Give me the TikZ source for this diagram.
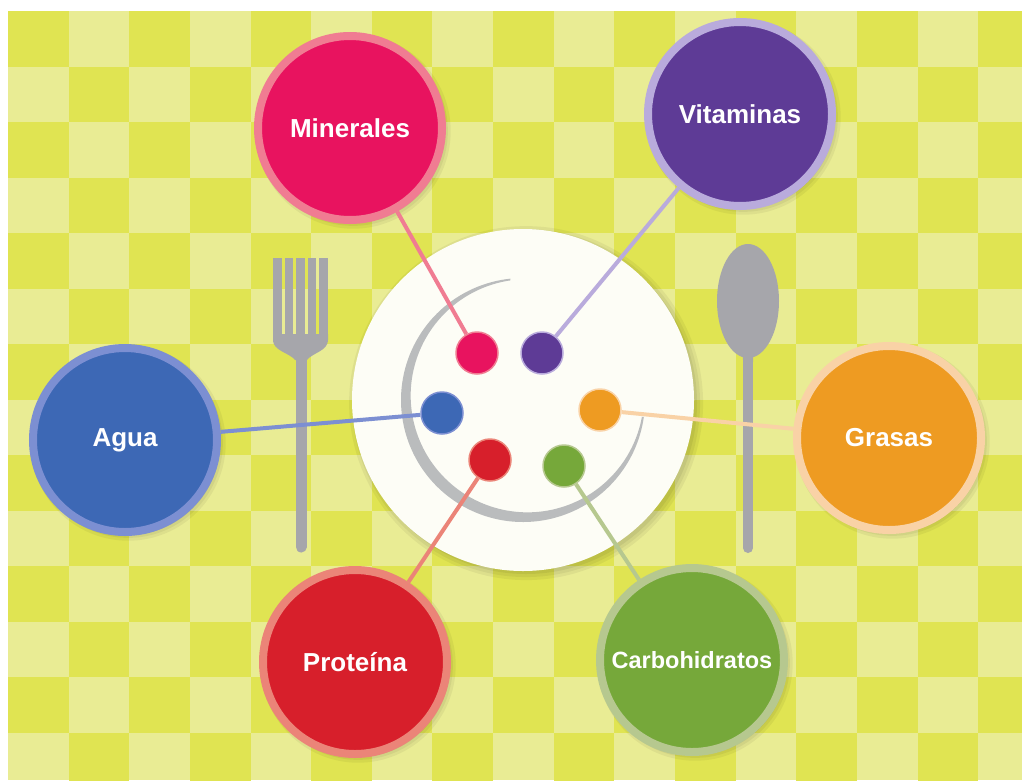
\documentclass[tikz,border=0pt]{standalone}
\usepackage{fontspec}
\setmainfont{Liberation Sans}
\usetikzlibrary{shadows}

\definecolor{checkdark}{RGB}{224,228,82}
\definecolor{checklight}{RGB}{233,236,148}
\definecolor{cutlery}{RGB}{166,166,171}
\definecolor{rimgray}{RGB}{186,188,189}
\definecolor{platewhite}{RGB}{253,253,246}

\definecolor{minfill}{RGB}{232,19,95}
\definecolor{minrim}{RGB}{240,124,146}
\definecolor{vitfill}{RGB}{94,59,150}
\definecolor{vitrim}{RGB}{185,171,220}
\definecolor{agufill}{RGB}{61,104,181}
\definecolor{agurim}{RGB}{124,143,210}
\definecolor{grafill}{RGB}{238,155,34}
\definecolor{grarim}{RGB}{249,210,166}
\definecolor{profill}{RGB}{215,31,43}
\definecolor{prorim}{RGB}{235,132,120}
\definecolor{carfill}{RGB}{118,168,58}
\definecolor{carrim}{RGB}{182,200,143}

\tikzset{
  softshadow/.style={
    general shadow={fill=black, fill opacity=0.05, shadow xshift=3pt, shadow yshift=-3pt, shadow scale=#1},
    general shadow={fill=black, fill opacity=0.05, shadow xshift=3pt, shadow yshift=-3pt, shadow scale={(1+#1)/2}},
    general shadow={fill=black, fill opacity=0.06, shadow xshift=3pt, shadow yshift=-3pt}},
  bigdisc/.style={circle, inner sep=0pt, minimum size=184pt, line width=8pt,
    fill=#1fill, draw=#1rim, text=white,
    font=\bfseries\fontsize{26}{30}\selectfont, softshadow=1.06},
  smalldot/.style={circle, inner sep=0pt, minimum size=42pt, line width=1.5pt,
    fill=#1fill, draw=#1rim},
  link/.style={line width=4pt, draw=#1rim},
}

\begin{document}
\begin{tikzpicture}[x=1pt, y=-1pt]
  \useasboundingbox (0,0) rectangle (1022,780);
  \fill[white] (0,0) rectangle (1022,780);

  % checkered tablecloth
  \begin{scope}
    \clip (8,11) rectangle (1022,780);
    \fill[checklight] (8,11) rectangle (1022,780);
    \foreach \i in {0,...,16}{
      \foreach \j in {0,...,13}{
        \pgfmathtruncatemacro\parity{mod(\i+\j,2)}
        \ifnum\parity=0
          \fill[checkdark] ({8+60.64*\i},{11+55.5*\j}) rectangle ++(60.64,55.5);
        \fi
      }
    }
  \end{scope}

  % fork
  \foreach \tx in {273,284.6,296.2,307.8,319.4}{
    \fill[cutlery] (\tx,258) rectangle ++(8.6,84);
  }
  \fill[cutlery] (273,334) -- (328,334) -- (328,340)
    .. controls (328,351) and (312,353) .. (307,360) -- (295,360)
    .. controls (290,353) and (273,351) .. (273,340) -- cycle;
  \draw[cutlery, line width=11pt, line cap=round] (301,356) -- (301,547);

  % spoon
  \fill[cutlery] (748,301) ellipse [x radius=31, y radius=57];
  \fill[cutlery] (742,352) .. controls (743,356) .. (743,362) -- (753,362)
    .. controls (753,356) .. (754,352) -- cycle;
  \draw[cutlery, line width=10pt, line cap=round] (748,355) -- (748,548);

  % plate
  \fill[platewhite, softshadow=1.035] (523,400) circle [radius=171];
  % rim of the plate well, tapering at both ends
  \fill[rimgray]
    plot[domain=96:352, samples=120, smooth] ({523+122*cos(\x)},{400-122*sin(\x)})
    -- plot[domain=352:96, samples=120, smooth]
       ({523+(116.5-6*cos(\x-225))*cos(\x)},{400-(116.5-6*cos(\x-225))*sin(\x)})
    -- cycle;

  % nutrient groups
  \node[bigdisc=min] (minbig) at (350,128) {Minerales};
  \node[bigdisc=vit] (vitbig) at (740,114) {Vitaminas};
  \node[bigdisc=agu] (agubig) at (125,440) {Agua};
  \node[bigdisc=gra] (grabig) at (889,438) {Grasas};
  \node[bigdisc=pro] (probig) at (355,662) {Proteína};
  \node[bigdisc=car, font=\bfseries\fontsize{23.5}{30}\selectfont] (carbig) at (692,660) {Carbohidratos};

  % portions on the plate
  \node[smalldot=min] (mindot) at (477,353) {};
  \node[smalldot=vit] (vitdot) at (542,353) {};
  \node[smalldot=agu] (agudot) at (442,413) {};
  \node[smalldot=gra] (gradot) at (600,410) {};
  \node[smalldot=pro] (prodot) at (490,460) {};
  \node[smalldot=car] (cardot) at (564,466) {};

  % connectors
  \draw[link=min] (mindot) -- (minbig);
  \draw[link=vit] (vitdot) -- (vitbig);
  \draw[link=agu] (agudot) -- (agubig);
  \draw[link=gra] (gradot) -- (grabig);
  \draw[link=pro] (prodot) -- (probig);
  \draw[link=car] (cardot) -- (carbig);
\end{tikzpicture}
\end{document}
